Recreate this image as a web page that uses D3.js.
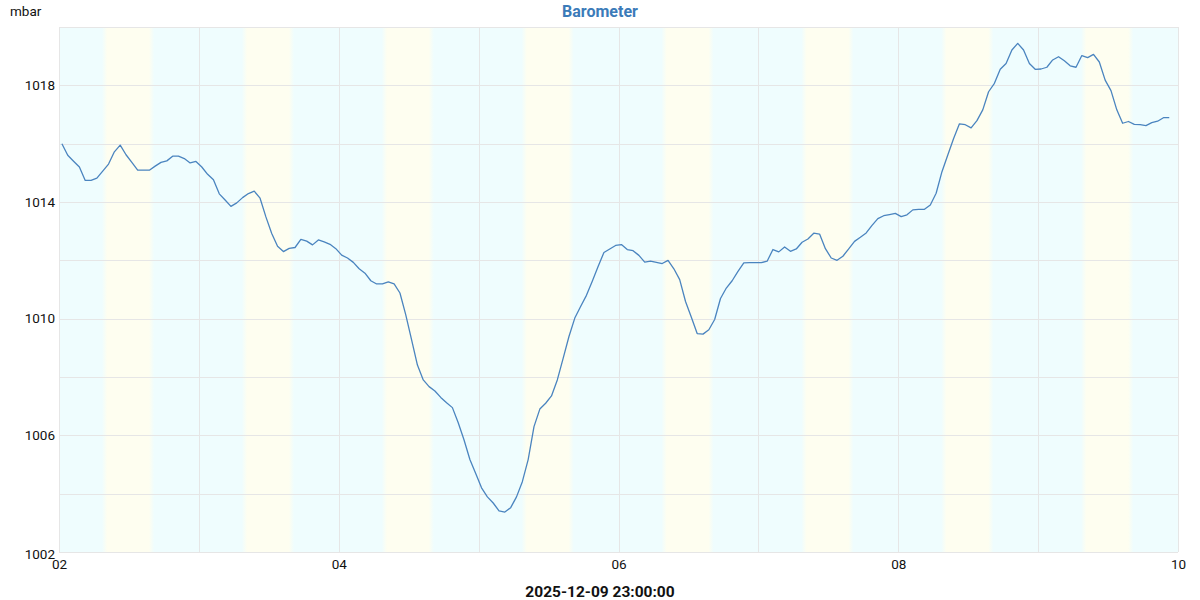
<!DOCTYPE html>
<html>
<head>
<meta charset="utf-8">
<script src="https://cdn.jsdelivr.net/npm/d3@7"></script>
<style>
  body { margin: 0; background: #fff; }
  svg { display: block; font-family: Roboto, "Noto Sans", sans-serif; }
</style>
</head>
<body>
<svg width="1200" height="600"></svg>
<script>
// hourly readings, first one at 2025-12-02 00:30
const startTime = "2025-12-02T00:30:00";
const pressure = [
  1016.0, 1015.6, 1015.4, 1015.2, 1014.74, 1014.74, 1014.82, 1015.06, 1015.3, 1015.72,
  1015.95, 1015.62, 1015.36, 1015.09, 1015.09, 1015.09, 1015.23, 1015.36, 1015.41, 1015.57,
  1015.57, 1015.49, 1015.34, 1015.39, 1015.2, 1014.95, 1014.76, 1014.28, 1014.07, 1013.85,
  1013.97, 1014.15, 1014.29, 1014.37, 1014.13, 1013.49, 1012.92, 1012.48, 1012.3, 1012.41,
  1012.44, 1012.72, 1012.66, 1012.53, 1012.7, 1012.63, 1012.55, 1012.4, 1012.18, 1012.08,
  1011.93, 1011.71, 1011.56, 1011.3, 1011.19, 1011.19, 1011.26, 1011.19, 1010.88, 1010.13,
  1009.27, 1008.41, 1007.9, 1007.67, 1007.52, 1007.3, 1007.12, 1006.95, 1006.43, 1005.84,
  1005.17, 1004.69, 1004.2, 1003.89, 1003.68, 1003.41, 1003.37, 1003.52, 1003.89, 1004.41,
  1005.17, 1006.3, 1006.9, 1007.1, 1007.35, 1007.9, 1008.64, 1009.39, 1010.02, 1010.42,
  1010.8, 1011.28, 1011.79, 1012.27, 1012.39, 1012.51, 1012.54, 1012.37, 1012.33, 1012.17,
  1011.94, 1011.97, 1011.93, 1011.89, 1012.0, 1011.71, 1011.34, 1010.59, 1010.05, 1009.49,
  1009.47, 1009.62, 1009.97, 1010.69, 1011.05, 1011.3, 1011.62, 1011.91, 1011.92, 1011.92,
  1011.92, 1011.97, 1012.37, 1012.29, 1012.46, 1012.31, 1012.39, 1012.62, 1012.73, 1012.93,
  1012.9, 1012.4, 1012.08, 1012.0, 1012.14, 1012.39, 1012.65, 1012.79, 1012.94, 1013.2,
  1013.43, 1013.53, 1013.57, 1013.61, 1013.5, 1013.56, 1013.73, 1013.75, 1013.75, 1013.9,
  1014.3, 1015.04, 1015.61, 1016.18, 1016.68, 1016.65, 1016.54, 1016.79, 1017.16, 1017.78,
  1018.07, 1018.55, 1018.75, 1019.21, 1019.44, 1019.21, 1018.75, 1018.55, 1018.56, 1018.62,
  1018.87, 1018.98, 1018.84, 1018.67, 1018.62, 1019.02, 1018.95, 1019.06, 1018.8, 1018.18,
  1017.82, 1017.16, 1016.7, 1016.76, 1016.66, 1016.65, 1016.62, 1016.72, 1016.77, 1016.89,
  1016.89
];
// daylight windows (yellow bands), hour of day
const dayStartHour = 7.73;
const dayEndHour = 16.0;
const days = ["2025-12-02", "2025-12-03", "2025-12-04", "2025-12-05", "2025-12-06",
              "2025-12-07", "2025-12-08", "2025-12-09"];
const xTicks = ["2025-12-02", "2025-12-04", "2025-12-06", "2025-12-08", "2025-12-10"];
const yTicks = [1002, 1006, 1010, 1014, 1018];
const title = "Barometer";
const unit = "mbar";
const lastLabel = "2025-12-09 23:00:00";

const svg = d3.select("svg"),
      width = +svg.attr("width"),
      height = +svg.attr("height"),
      margin = { top: 27, right: 22, bottom: 48, left: 59 };

const chartWidth = width - margin.left - margin.right;
const chartHeight = height - margin.top - margin.bottom;

const midnight = d => new Date(d + "T00:00:00");
const t0 = new Date(startTime);
const data = pressure.map((v, i) => ({ time: d3.timeHour.offset(t0, i), value: v }));

const x = d3.scaleTime()
  .domain([midnight("2025-12-02"), midnight("2025-12-10")])
  .range([0, chartWidth]);

const y = d3.scaleLinear()
  .domain([1002, 1020])
  .range([chartHeight, 0]);

const g = svg.append("g")
  .attr("transform", `translate(${margin.left},${margin.top})`);

// soft-edged daylight gradient
const grad = svg.append("defs").append("linearGradient")
  .attr("id", "daylight").attr("x1", 0).attr("x2", 1);
[[0, "#effdfe"], [0.1, "#fefef0"], [0.9, "#fefef0"], [1, "#effdfe"]].forEach(([o, c]) =>
  grad.append("stop").attr("offset", o).attr("stop-color", c));

g.append("rect")
  .attr("width", chartWidth).attr("height", chartHeight)
  .attr("fill", "#effdfe");

const dayX0 = d => x(d3.timeMinute.offset(midnight(d), dayStartHour * 60));
const dayX1 = d => x(d3.timeMinute.offset(midnight(d), dayEndHour * 60));

g.selectAll("rect.day")
  .data(days)
  .enter().append("rect")
  .attr("class", "day")
  .attr("x", d => dayX0(d) - 2)
  .attr("width", d => dayX1(d) - dayX0(d) + 4)
  .attr("y", 0).attr("height", chartHeight)
  .attr("fill", "url(#daylight)");

// grid
g.append("g")
  .selectAll("line")
  .data(d3.range(1002, 1021, 2))
  .enter().append("line")
  .attr("x1", 0).attr("x2", chartWidth)
  .attr("y1", d => Math.round(y(d)) + 0.5).attr("y2", d => Math.round(y(d)) + 0.5)
  .attr("stroke", "#e6e6e6");

g.append("g")
  .selectAll("line")
  .data(x.ticks(d3.timeDay.every(1)))
  .enter().append("line")
  .attr("x1", d => Math.round(x(d)) + 0.5).attr("x2", d => Math.round(x(d)) + 0.5)
  .attr("y1", 0).attr("y2", chartHeight)
  .attr("stroke", "#e6e6e6");

// Axis
const xAxis = g.append("g")
  .attr("transform", `translate(0,${chartHeight})`)
  .call(d3.axisBottom(x).tickValues(xTicks.map(midnight)).tickFormat(d3.timeFormat("%d")).tickSize(0).tickPadding(7));
const yAxis = g.append("g")
  .call(d3.axisLeft(y).tickValues(yTicks).tickFormat(d3.format("d")).tickSize(0).tickPadding(4));
[xAxis, yAxis].forEach(a => {
  a.select(".domain").remove();
  a.selectAll("text").attr("font-size", 13.5).attr("fill", "#111").style("font-family", "Roboto");
});
// lowest label sits a touch under its gridline
yAxis.selectAll(".tick").filter(d => d === yTicks[0]).select("text").attr("dy", "0.45em");

// Line
const line = d3.line()
  .x(d => x(d.time))
  .y(d => y(d.value));

g.append("path")
  .datum(data)
  .attr("fill", "none")
  .attr("stroke", "#4a84bf")
  .attr("stroke-width", 1.3)
  .attr("stroke-linejoin", "round")
  .attr("d", line);

// labels
svg.append("text")
  .attr("x", 600).attr("y", 17)
  .attr("text-anchor", "middle")
  .attr("font-size", 16).attr("font-weight", "bold")
  .attr("fill", "#3b7bb9")
  .text(title);

svg.append("text")
  .attr("x", 10).attr("y", 15.5)
  .attr("font-size", 13.5).attr("fill", "#111")
  .text(unit);

svg.append("text")
  .attr("x", 600).attr("y", 596.5)
  .attr("text-anchor", "middle")
  .attr("font-size", 15.5).attr("font-weight", "bold")
  .attr("fill", "#111")
  .text(lastLabel);
</script>
</body>
</html>
